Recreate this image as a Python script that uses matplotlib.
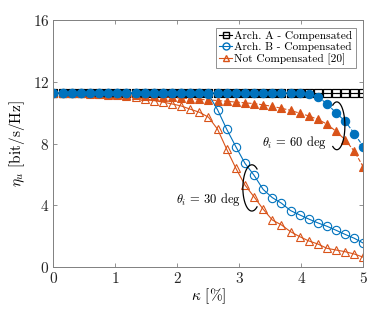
import numpy as np
import matplotlib
matplotlib.use('Agg')
import matplotlib.pyplot as plt
from matplotlib.lines import Line2D

plt.rcParams['font.family'] = 'serif'
plt.rcParams['font.serif'] = ['cmr10']
plt.rcParams['mathtext.fontset'] = 'cm'
plt.rcParams['axes.formatter.use_mathtext'] = True

# kappa grid [%]
kappa = np.linspace(0, 5, 35)

arch_a = [11.3, 11.3, 11.3, 11.3, 11.3, 11.3, 11.3, 11.3, 11.3, 11.3,
          11.3, 11.3, 11.3, 11.3, 11.3, 11.3, 11.3, 11.3, 11.3, 11.3,
          11.3, 11.3, 11.3, 11.3, 11.3, 11.3, 11.3, 11.3, 11.3, 11.3,
          11.3, 11.3, 11.3, 11.3, 11.3]

# theta_i = 30 deg
arch_b_30 = [11.3, 11.3, 11.3, 11.3, 11.3, 11.3, 11.3, 11.3, 11.3, 11.3,
             11.3, 11.3, 11.3, 11.3, 11.3, 11.3, 11.3, 11.2, 10.2, 8.94,
             7.81, 6.73, 5.95, 5.03, 4.5, 4.14, 3.66, 3.38, 3.11, 2.86,
             2.64, 2.38, 2.11, 1.86, 1.54]
notc_30 = [11.3, 11.3, 11.28, 11.26, 11.24, 11.22, 11.18, 11.14, 11.08, 11.0,
           10.92, 10.8, 10.7, 10.58, 10.45, 10.24, 10.04, 9.72, 8.94, 7.64,
           6.41, 5.32, 4.55, 3.75, 3.05, 2.73, 2.29, 1.97, 1.69, 1.49,
           1.21, 1.1, 0.99, 0.84, 0.63]

# theta_i = 60 deg
arch_b_60 = [11.3, 11.3, 11.3, 11.3, 11.3, 11.3, 11.3, 11.3, 11.3, 11.3,
             11.3, 11.3, 11.3, 11.3, 11.3, 11.3, 11.3, 11.3, 11.3, 11.3,
             11.3, 11.3, 11.3, 11.3, 11.3, 11.3, 11.3, 11.3, 11.25, 11.05,
             10.58, 10.0, 9.45, 8.65, 7.8]
notc_60 = [11.3, 11.3, 11.29, 11.28, 11.26, 11.24, 11.22, 11.2, 11.17, 11.14,
           11.11, 11.08, 11.04, 11.0, 10.96, 10.92, 10.88, 10.84, 10.8, 10.75,
           10.7, 10.65, 10.6, 10.52, 10.42, 10.3, 10.16, 9.98, 9.8, 9.58,
           9.27, 8.8, 8.25, 7.5, 6.47]

labels = ['Arch. A - Compensated', 'Arch. B - Compensated', 'Not Compensated [20]']

blue = '#0072BD'
orange = '#D95319'
gray = '#808080'

fig = plt.figure(figsize=(3.9, 3.09), dpi=100)
ax = fig.add_axes([0.137, 0.136, 0.795, 0.798])

lw = 0.8
ms = 6
ax.plot(kappa, arch_a, '-', color='k', lw=lw, marker='s', ms=ms, mfc='none', mew=0.8)
ax.plot(kappa, arch_a, '--', color='k', lw=lw, marker='s', ms=ms, mfc='none', mew=0.8)
ax.plot(kappa, notc_30, '-', color=orange, lw=lw, marker='^', ms=ms, mfc='none', mew=0.8)
ax.plot(kappa, notc_60, '--', color=orange, lw=lw, marker='^', ms=ms, mfc=orange, mew=0.8)
ax.plot(kappa, arch_b_30, '-', color=blue, lw=lw, marker='o', ms=ms, mfc='none', mew=0.8)
ax.plot(kappa, arch_b_60, '--', color=blue, lw=lw, marker='o', ms=ms, mfc=blue, mew=0.8)

# open ellipses grouping the two incidence angles
t = np.deg2rad(np.linspace(-120, 120, 100))
ax.plot(4.57 + 0.13 * np.cos(t), 9.16 + 1.55 * np.sin(t), color='k', lw=0.9)
t = np.deg2rad(np.linspace(55, 305, 100))
ax.plot(3.2 + 0.145 * np.cos(t), 5.13 + 1.5 * np.sin(t), color='k', lw=0.9)
ax.text(4.41, 8.1, r'$\theta_i$ = 60 deg', ha='right', va='center', fontsize=9)
ax.text(3.03, 4.4, r'$\theta_i$ = 30 deg', ha='right', va='center', fontsize=9)

ax.set_xlim(0, 5)
ax.set_ylim(0, 16)
ax.set_xticks([0, 1, 2, 3, 4, 5])
ax.set_yticks([0, 4, 8, 12, 16])
ax.tick_params(direction='in', top=True, right=True, length=3, width=0.6,
               colors=gray, labelcolor='#262626', labelsize=11, pad=3)
for s in ax.spines.values():
    s.set_color(gray)
    s.set_linewidth(0.7)

ax.set_xlabel(r'$\kappa$ [%]', fontsize=11, labelpad=0)
ax.set_ylabel(r'$\eta_u$ [bit/s/Hz]', fontsize=11, labelpad=4)

handles = [Line2D([], [], color='k', lw=lw, marker='s', ms=5, mfc='none'),
           Line2D([], [], color=blue, lw=lw, marker='o', ms=5, mfc='none'),
           Line2D([], [], color=orange, lw=lw, marker='^', ms=5, mfc='none')]
leg = ax.legend(handles, labels, loc='upper right', bbox_to_anchor=(0.975, 0.97),
                fontsize=8.2, handlelength=1.1, handletextpad=0.2,
                labelspacing=0.1, borderpad=0.3, borderaxespad=0,
                fancybox=False, framealpha=1)
leg.get_frame().set_edgecolor(gray)
leg.get_frame().set_linewidth(0.6)

plt.savefig('out.png', dpi=100)
